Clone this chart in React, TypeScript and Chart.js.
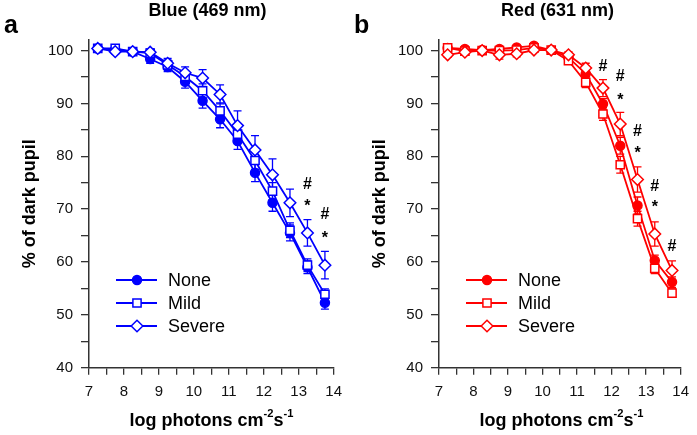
import React, { useEffect, useRef } from 'react';
import { Chart, registerables } from 'chart.js';

Chart.register(...registerables);

const FONT = '"Liberation Sans", Arial, Helvetica, sans-serif';

// x positions (log photons cm^-2 s^-1)
const logPhotons = [7.25, 7.75, 8.25, 8.75, 9.25, 9.75, 10.25, 10.75, 11.25, 11.75, 12.25, 12.75, 13.25, 13.75];
const seriesNames = ['None', 'Mild', 'Severe'];

// Blue (469 nm)
const blueNone = [100.4, 100.2, 99.8, 98.4, 96.9, 94.1, 90.5, 87.0, 82.9, 76.9, 71.2, 65.5, 59.0, 52.3];
const blueMild = [100.4, 100.4, 99.8, 99.5, 97.3, 95.1, 92.4, 88.6, 84.2, 79.2, 73.4, 66.0, 59.4, 53.9];
const blueSevere = [100.4, 99.8, 99.8, 99.7, 97.6, 95.8, 94.8, 91.7, 85.8, 81.2, 76.5, 71.2, 65.5, 59.4];
const blueNoneErr = [0.3, 0.4, 0.5, 0.8, 0.9, 1.2, 1.4, 1.6, 1.6, 1.7, 1.6, 1.5, 1.2, 1.2];
const blueMildErr = [0.3, 0.6, 0.5, 0.6, 0.9, 1.1, 1.3, 1.5, 1.6, 1.7, 1.6, 1.4, 1.2, 1.0];
const blueSevereErr = [0.3, 0.4, 0.5, 0.6, 0.9, 1.1, 1.6, 1.8, 2.8, 2.7, 3.0, 2.6, 2.5, 2.6];

// Red (631 nm)
const redNone = [100.5, 100.3, 100.1, 100.3, 100.6, 100.9, 100.1, 98.7, 95.6, 89.9, 82.0, 70.7, 60.3, 56.2];
const redMild = [100.5, 99.9, 100.0, 100.0, 100.1, 100.5, 100.1, 98.1, 94.0, 88.0, 78.4, 68.2, 58.8, 54.1];
const redSevere = [99.2, 99.7, 100.0, 99.2, 99.4, 100.1, 100.1, 99.2, 96.7, 92.9, 86.1, 75.6, 65.3, 58.4];
const redNoneErr = [0.3, 0.3, 0.3, 0.4, 0.4, 0.4, 0.3, 0.5, 0.8, 1.0, 1.6, 1.6, 1.0, 1.0];
const redMildErr = [0.4, 0.4, 0.3, 0.5, 0.5, 0.4, 0.3, 0.6, 1.0, 1.2, 1.6, 1.4, 1.0, 0.8];
const redSevereErr = [0.5, 0.4, 0.3, 0.8, 0.6, 0.4, 0.3, 0.6, 0.9, 1.6, 2.2, 2.4, 2.3, 1.8];

// significance markers
const blueSigX = [13.25, 13.25, 13.75, 13.75];
const blueSigY = [74.9, 71.5, 69.2, 65.5];
const blueSigText = ['#', '*', '#', '*'];
const redSigX = [11.75, 12.25, 12.25, 12.75, 12.75, 13.25, 13.25, 13.75];
const redSigY = [97.3, 95.3, 91.6, 85.0, 81.5, 74.6, 71.2, 63.2];
const redSigText = ['#', '#', '*', '#', '*', '#', '*', '#'];

// axes
const xTickValues = [7, 7.5, 8, 8.5, 9, 9.5, 10, 10.5, 11, 11.5, 12, 12.5, 13, 13.5, 14];
const yTickValues = [40, 45, 50, 55, 60, 65, 70, 75, 80, 85, 90, 95, 100];
const xMin = 7, xMax = 14, yMin = 40, yMax = 102;

const markerStyles = {
  None: { style: 'circle', radius: 4.5, filled: true },
  Mild: { style: 'rect', radius: 5.8, filled: false },
  Severe: { style: 'rectRot', radius: 5.8, filled: false },
};

function drawMarker(ctx, style, x, y, r, color, filled) {
  ctx.save();
  ctx.beginPath();
  if (style === 'circle') {
    ctx.arc(x, y, r, 0, Math.PI * 2);
  } else if (style === 'rect') {
    const s = r * Math.SQRT1_2;
    ctx.rect(x - s, y - s, 2 * s, 2 * s);
  } else {
    ctx.moveTo(x - r, y);
    ctx.lineTo(x, y - r);
    ctx.lineTo(x + r, y);
    ctx.lineTo(x, y + r);
    ctx.closePath();
  }
  ctx.fillStyle = filled ? color : '#ffffff';
  ctx.fill();
  ctx.lineWidth = 1.5;
  ctx.strokeStyle = color;
  ctx.stroke();
  ctx.restore();
}

const errorBarPlugin = {
  id: 'errorBars',
  beforeDatasetsDraw(chart) {
    const ctx = chart.ctx;
    const yScale = chart.scales.y;
    chart.data.datasets.forEach((ds, i) => {
      const meta = chart.getDatasetMeta(i);
      const errs = ds.errors || [];
      ctx.save();
      ctx.strokeStyle = ds.borderColor;
      ctx.lineWidth = 1.3;
      meta.data.forEach((pt, j) => {
        const v = ds.data[j].y;
        const e = errs[j] || 0;
        const yTop = yScale.getPixelForValue(v + e);
        const yBot = yScale.getPixelForValue(v - e);
        const x = pt.x;
        ctx.beginPath();
        ctx.moveTo(x, yTop);
        ctx.lineTo(x, yBot);
        ctx.moveTo(x - 4, yTop);
        ctx.lineTo(x + 4, yTop);
        ctx.moveTo(x - 4, yBot);
        ctx.lineTo(x + 4, yBot);
        ctx.stroke();
      });
      ctx.restore();
    });
  },
};

const sigPlugin = {
  id: 'sigMarks',
  afterDatasetsDraw(chart, args, opts) {
    const ctx = chart.ctx;
    const xs = chart.scales.x;
    const ys = chart.scales.y;
    const size = 16;
    ctx.save();
    ctx.fillStyle = '#000';
    ctx.font = `bold ${size}px ${FONT}`;
    ctx.textAlign = 'center';
    ctx.textBaseline = 'alphabetic';
    (opts.x || []).forEach((xv, i) => {
      const t = opts.text[i];
      const px = xs.getPixelForValue(xv);
      const py = ys.getPixelForValue(opts.y[i]);
      const off = t === '*' ? 0.6 * size : 0.36 * size;
      ctx.fillText(t, px, py + off);
    });
    ctx.restore();
  },
};

const legendPlugin = {
  id: 'insideLegend',
  afterDraw(chart, args, opts) {
    const ctx = chart.ctx;
    const left = chart.chartArea.left;
    const rows = [280, 303, 326];
    seriesNames.forEach((name, i) => {
      const y = rows[i];
      const m = markerStyles[name];
      ctx.save();
      ctx.strokeStyle = opts.color;
      ctx.lineWidth = 1.8;
      ctx.beginPath();
      ctx.moveTo(left + 27, y);
      ctx.lineTo(left + 68, y);
      ctx.stroke();
      ctx.restore();
      drawMarker(ctx, m.style, left + 48, y, m.radius, opts.color, m.filled);
      ctx.save();
      ctx.fillStyle = '#000';
      ctx.font = `18px ${FONT}`;
      ctx.textAlign = 'left';
      ctx.textBaseline = 'middle';
      ctx.fillText(name, left + 79, y + 1);
      ctx.restore();
    });
  },
};

function makeConfig(color, series, errors, sig, padRight) {
  const order = [2, 1, 0]; // Severe drawn on top
  const datasets = order.map((k) => {
    const name = seriesNames[k];
    const m = markerStyles[name];
    return {
      label: name,
      data: logPhotons.map((x, j) => ({ x, y: series[k][j] })),
      errors: errors[k],
      borderColor: color,
      backgroundColor: color,
      borderWidth: 1.8,
      pointStyle: m.style,
      pointRadius: m.radius,
      pointHoverRadius: m.radius,
      pointBorderWidth: 1.5,
      pointBackgroundColor: m.filled ? color : '#ffffff',
      pointBorderColor: color,
      tension: 0,
      clip: false,
    };
  });
  return {
    type: 'line',
    data: { datasets },
    options: {
      responsive: false,
      animation: false,
      devicePixelRatio: 1,
      events: [],
      layout: { padding: { top: 40, right: padRight, left: 0, bottom: 0 } },
      plugins: {
        legend: { display: false },
        tooltip: { enabled: false },
        title: { display: false },
        insideLegend: { color },
        sigMarks: sig,
      },
      scales: {
        x: {
          type: 'linear',
          position: 'bottom',
          min: xMin,
          max: xMax,
          afterFit: (s) => { s.height = 67.3; },
          afterBuildTicks: (s) => { s.ticks = xTickValues.map((v) => ({ value: v })); },
          ticks: {
            autoSkip: false,
            maxRotation: 0,
            padding: 8,
            color: '#111',
            font: { size: 15, family: FONT },
            callback: (v) => (Number.isInteger(v) ? String(v) : ''),
          },
          grid: { drawOnChartArea: false, drawTicks: true, tickLength: 7, color: '#333', lineWidth: 1.3 },
          border: { display: true, color: '#333', width: 1.5 },
        },
        y: {
          type: 'linear',
          position: 'left',
          min: yMin,
          max: yMax,
          afterFit: (s) => { s.width = 89; },
          afterBuildTicks: (s) => { s.ticks = yTickValues.map((v) => ({ value: v })); },
          ticks: {
            autoSkip: false,
            padding: 8,
            color: '#111',
            font: { size: 15, family: FONT },
            callback: (v) => (v % 10 === 0 ? String(v) : ''),
          },
          grid: { drawOnChartArea: false, drawTicks: true, tickLength: 8, color: '#333', lineWidth: 1.3 },
          border: { display: true, color: '#333', width: 1.5 },
          title: {
            display: true,
            text: '% of dark pupil',
            color: '#000',
            font: { size: 18, weight: 'bold', family: FONT },
            padding: { top: 19, bottom: 0 },
          },
        },
      },
    },
    plugins: [errorBarPlugin, sigPlugin, legendPlugin],
  };
}

function Panel({ left, width, letter, title, color, series, errors, sig, padRight }) {
  const ref = useRef(null);
  useEffect(() => {
    const chart = new Chart(ref.current, makeConfig(color, series, errors, sig, padRight));
    return () => chart.destroy();
  }, []);
  const textBase = { position: 'absolute', whiteSpace: 'nowrap', lineHeight: 1, fontFamily: FONT, color: '#000' };
  return (
    <div style={{ position: 'absolute', left, top: 0, width, height: 435 }}>
      <canvas ref={ref} width={width} height={435} style={{ position: 'absolute', left: 0, top: 0, width, height: 435 }} />
      <div style={{ ...textBase, left: 4, top: 11.5, fontSize: 25, fontWeight: 'bold' }}>{letter}</div>
      <div style={{ ...textBase, left: 207.5, top: 1.3, fontSize: 18, fontWeight: 'bold', transform: 'translateX(-50%)' }}>{title}</div>
      <div style={{ ...textBase, left: 211.5, top: 410.8, fontSize: 18, fontWeight: 'bold', transform: 'translateX(-50%)' }}>
        log photons cm
        <span style={{ fontSize: '0.62em', position: 'relative', top: '-0.75em' }}>-2</span>
        s
        <span style={{ fontSize: '0.62em', position: 'relative', top: '-0.75em' }}>-1</span>
      </div>
    </div>
  );
}

export default function App() {
  return (
    <div style={{ position: 'absolute', left: 0, top: 0, width: 697, height: 435, background: '#fff', overflow: 'hidden' }}>
      <Panel
        left={0}
        width={350}
        letter="a"
        title="Blue (469 nm)"
        color="#0000ff"
        series={[blueNone, blueMild, blueSevere]}
        errors={[blueNoneErr, blueMildErr, blueSevereErr]}
        sig={{ x: blueSigX, y: blueSigY, text: blueSigText }}
        padRight={14}
      />
      <Panel
        left={350}
        width={347}
        letter="b"
        title="Red (631 nm)"
        color="#ff0000"
        series={[redNone, redMild, redSevere]}
        errors={[redNoneErr, redMildErr, redSevereErr]}
        sig={{ x: redSigX, y: redSigY, text: redSigText }}
        padRight={11}
      />
    </div>
  );
}
